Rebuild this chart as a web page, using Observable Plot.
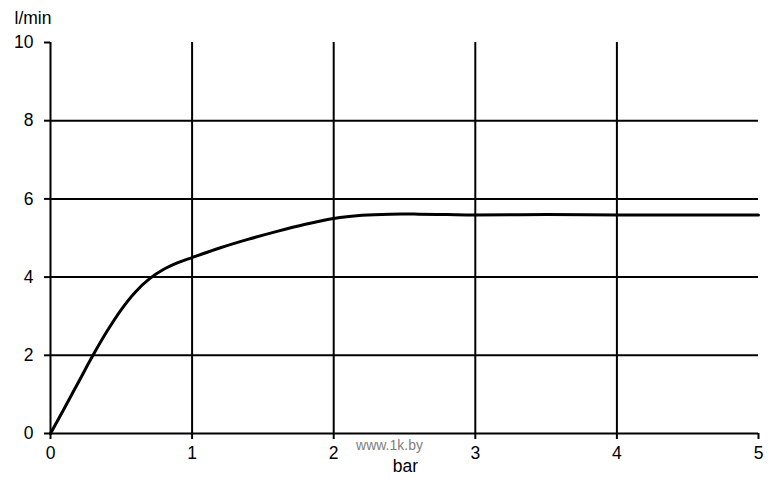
<!DOCTYPE html>
<html>
<head>
<meta charset="utf-8">
<script src="https://cdn.jsdelivr.net/npm/d3@7"></script>
<script src="https://cdn.jsdelivr.net/npm/@observablehq/plot@0.6"></script>
<style>
  html, body { margin: 0; padding: 0; background: #fff; }
  #chart svg { display: block; }
</style>
</head>
<body>
<div id="chart"></div>
<script>
const pressure = [0, 0.1, 0.2, 0.3, 0.4, 0.5, 0.6, 0.7, 0.8, 0.9, 1.0, 1.2, 1.4, 1.6, 1.8, 2.0, 2.2, 2.4, 2.6, 2.8, 3.0, 3.5, 4.0, 4.5, 5.0];
const flow     = [0, 0.66, 1.33, 2.0, 2.62, 3.17, 3.62, 3.96, 4.2, 4.37, 4.5, 4.75, 4.97, 5.17, 5.35, 5.5, 5.58, 5.61, 5.61, 5.6, 5.59, 5.6, 5.59, 5.59, 5.59];
const xTicks = [0, 1, 2, 3, 4, 5];
const yTicks = [0, 2, 4, 6, 8, 10];
const xGrid = [1, 2, 3, 4];
const yGrid = [2, 4, 6, 8];
const xLabel = "bar";
const yLabel = "l/min";
const watermark = "www.1k.by";

const data = pressure.map((p, i) => ({p, f: flow[i]}));
const font = "'Liberation Sans', Arial, sans-serif";

const chart = Plot.plot({
  width: 778,
  height: 490,
  marginLeft: 50,
  marginRight: 20,
  marginTop: 42,
  marginBottom: 57,
  style: {fontFamily: font, fontSize: "17.5px", color: "#000", background: "#fff"},
  x: {domain: [0, 5]},
  y: {domain: [0, 10]},
  marks: [
    Plot.ruleX(xGrid, {stroke: "#000", strokeWidth: 2, y1: 0, y2: 10}),
    Plot.ruleY(yGrid, {stroke: "#000", strokeWidth: 2, x1: 0, x2: 5}),
    Plot.ruleX([0], {stroke: "#000", strokeWidth: 2, y1: 0, y2: 10}),
    Plot.ruleY([0], {stroke: "#000", strokeWidth: 2, x1: 0, x2: 5}),
    Plot.axisX({ticks: xTicks, tickFormat: "d", tickSize: 6, tickPadding: 7, strokeWidth: 2, label: null, fontSize: 17.5, stroke: "#000"}),
    Plot.axisY({ticks: yTicks, tickFormat: "d", tickSize: 6, tickPadding: 11, strokeWidth: 2, label: null, fontSize: 17.5, stroke: "#000"}),
    Plot.line(data, {x: "p", y: "f", curve: "catmull-rom", stroke: "#000", strokeWidth: 3}),
    Plot.text([yLabel], {frameAnchor: "top-left", dx: -36, dy: -31, textAnchor: "start", fontSize: 17.5, fill: "#000"}),
    Plot.text([watermark], {frameAnchor: "bottom", dx: -15, dy: 16, fontSize: 14, fill: "#808080"}),
    Plot.text([xLabel], {frameAnchor: "bottom", dx: 1, dy: 38, fontSize: 17.5, fill: "#000"})
  ]
});
document.getElementById("chart").appendChild(chart);
</script>
</body>
</html>
